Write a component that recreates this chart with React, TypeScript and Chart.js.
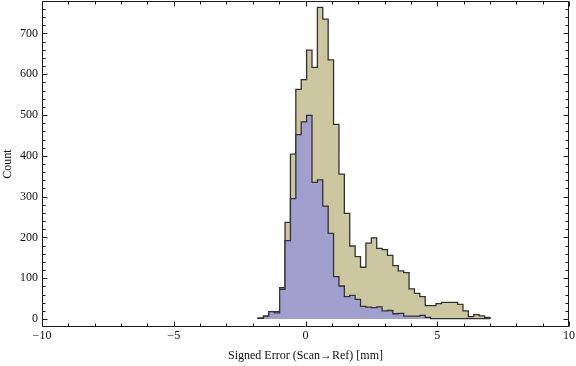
import React, { useEffect, useRef } from 'react';
import { Chart, registerables } from 'chart.js';

Chart.register(...registerables);

// Histogram bins: 43 equal bins from binStart to binEnd (mm)
const binStart = -1.8;
const binEnd = 7.0;

// Counts of all points (tan histogram)
const allCounts = [
  2, 7, 18, 18, 77, 237, 404, 563, 587, 659,
  617, 764, 735, 635, 477, 355, 259, 179, 153, 127,
  186, 199, 173, 170, 156, 131, 118, 114, 74, 63,
  55, 33, 33, 38, 41, 41, 41, 36, 20, 6,
  11, 8, 4,
];

// Counts of the subset (blue histogram)
const subsetCounts = [
  2, 7, 18, 15, 73, 192, 295, 452, 483, 499,
  335, 341, 277, 210, 104, 81, 55, 58, 48, 31,
  29, 28, 30, 20, 21, 13, 14, 7, 7, 7,
  9, 4, 1, 1, 1, 1, 1, 1, 1, 1,
  1, 1, 1,
];

// Axis ticks
const xMajorTicks = [-10, -5, 0, 5, 10];
const xMinorStep = 1;
const yMajorTicks = [0, 100, 200, 300, 400, 500, 600, 700];
const yMinorStep = 20;
const xRange = [-10, 10];
const yRange = [-19.5, 779.5];

const xTitle = 'Signed Error (Scan\u2192Ref) [mm]';
const yTitle = 'Count';

const TAN = 'rgb(204, 199, 160)';
const BLUE = 'rgb(161, 159, 206)';
const EDGE = '#333333';
const FRAME = '#1a1a1a';
const FONT = "'Liberation Serif', 'Times New Roman', serif";

function stepPoints(counts: number[]) {
  const w = (binEnd - binStart) / counts.length;
  const pts: { x: number; y: number }[] = [{ x: binStart, y: 0 }];
  counts.forEach((c, i) => pts.push({ x: binStart + i * w, y: c }));
  pts.push({ x: binEnd, y: 0 });
  return pts;
}

const framePlugin = {
  id: 'mmaFrame',
  afterDatasetsDraw(chart: any) {
    const { ctx, chartArea: a, scales } = chart;
    const xs = scales.x;
    const ys = scales.y;
    const L = Math.round(a.left) + 0.5;
    const R = Math.round(a.right) - 0.5;
    const T = Math.round(a.top) + 0.5;
    const B = Math.round(a.bottom) - 0.5;
    ctx.save();
    ctx.strokeStyle = FRAME;
    ctx.lineWidth = 1;
    ctx.beginPath();
    ctx.rect(L, T, R - L, B - T);
    ctx.stroke();
    ctx.beginPath();
    // x ticks (bottom and top)
    for (let v = xRange[0]; v <= xRange[1] + 1e-9; v += xMinorStep) {
      const major = xMajorTicks.includes(Math.round(v));
      const len = major ? 5 : 3;
      const px = Math.round(xs.getPixelForValue(v)) + 0.5;
      ctx.moveTo(px, B);
      ctx.lineTo(px, B - len);
      ctx.moveTo(px, T);
      ctx.lineTo(px, T + len);
    }
    // y ticks (left and right)
    for (let v = 0; v <= yRange[1]; v += yMinorStep) {
      const major = yMajorTicks.includes(v);
      const len = major ? 5 : 3;
      const py = Math.round(ys.getPixelForValue(v)) + 0.5;
      ctx.moveTo(L, py);
      ctx.lineTo(L + len, py);
      ctx.moveTo(R, py);
      ctx.lineTo(R - len, py);
    }
    ctx.stroke();
    ctx.restore();
  },
};

export default function App() {
  const ref = useRef<HTMLCanvasElement | null>(null);

  useEffect(() => {
    document.body.style.margin = '0';
    const canvas = ref.current;
    if (!canvas) return;
    const chart = new Chart(canvas, {
      type: 'line',
      data: {
        datasets: [
          {
            label: 'subset',
            data: stepPoints(subsetCounts),
            stepped: 'before',
            fill: 'origin',
            backgroundColor: BLUE,
            borderColor: EDGE,
            borderWidth: 1.3,
            pointRadius: 0,
            tension: 0,
            order: 0,
          },
          {
            label: 'all',
            data: stepPoints(allCounts),
            stepped: 'before',
            fill: 'origin',
            backgroundColor: TAN,
            borderColor: EDGE,
            borderWidth: 1.3,
            pointRadius: 0,
            tension: 0,
            order: 1,
          },
        ],
      } as any,
      options: {
        animation: false,
        responsive: false,
        devicePixelRatio: 1,
        layout: { padding: { left: 0, right: 7, top: 1, bottom: 0 } },
        plugins: {
          legend: { display: false },
          tooltip: { enabled: false },
        },
        scales: {
          x: {
            type: 'linear',
            min: xRange[0],
            max: xRange[1],
            grid: { display: false, drawTicks: false, tickLength: 0 },
            border: { display: false },
            ticks: {
              font: { family: FONT, size: 12 },
              color: '#111',
              padding: 2,
              maxRotation: 0,
              autoSkip: false,
              callback: (v: any) => (Number(v) < 0 ? '\u2212' + Math.abs(Number(v)) : String(v)),
            },
            afterBuildTicks: (s: any) => {
              s.ticks = xMajorTicks.map((v) => ({ value: v }));
            },
            afterFit: (s: any) => {
              s.height = 39;
              s.paddingLeft = 0;
              s.paddingRight = 0;
            },
            title: {
              display: true,
              text: xTitle,
              color: '#111',
              font: { family: FONT, size: 12 },
              padding: { top: 0, bottom: 3 },
            },
          },
          y: {
            type: 'linear',
            min: yRange[0],
            max: yRange[1],
            grid: { display: false, drawTicks: false, tickLength: 0 },
            border: { display: false },
            ticks: {
              font: { family: FONT, size: 12 },
              color: '#111',
              padding: 4,
              autoSkip: false,
            },
            afterBuildTicks: (s: any) => {
              s.ticks = yMajorTicks.map((v) => ({ value: v }));
            },
            afterFit: (s: any) => {
              s.width = 42;
              s.paddingTop = 0;
              s.paddingBottom = 0;
            },
            title: {
              display: true,
              text: yTitle,
              color: '#111',
              font: { family: FONT, size: 12 },
              padding: { top: 1, bottom: 0 },
            },
          },
        },
      } as any,
      plugins: [framePlugin],
    });
    return () => chart.destroy();
  }, []);

  return (
    <div style={{ position: 'absolute', left: 0, top: 0, width: 576, height: 366, background: '#fff' }}>
      <canvas ref={ref} width={576} height={366} style={{ display: 'block', width: 576, height: 366 }} />
    </div>
  );
}
